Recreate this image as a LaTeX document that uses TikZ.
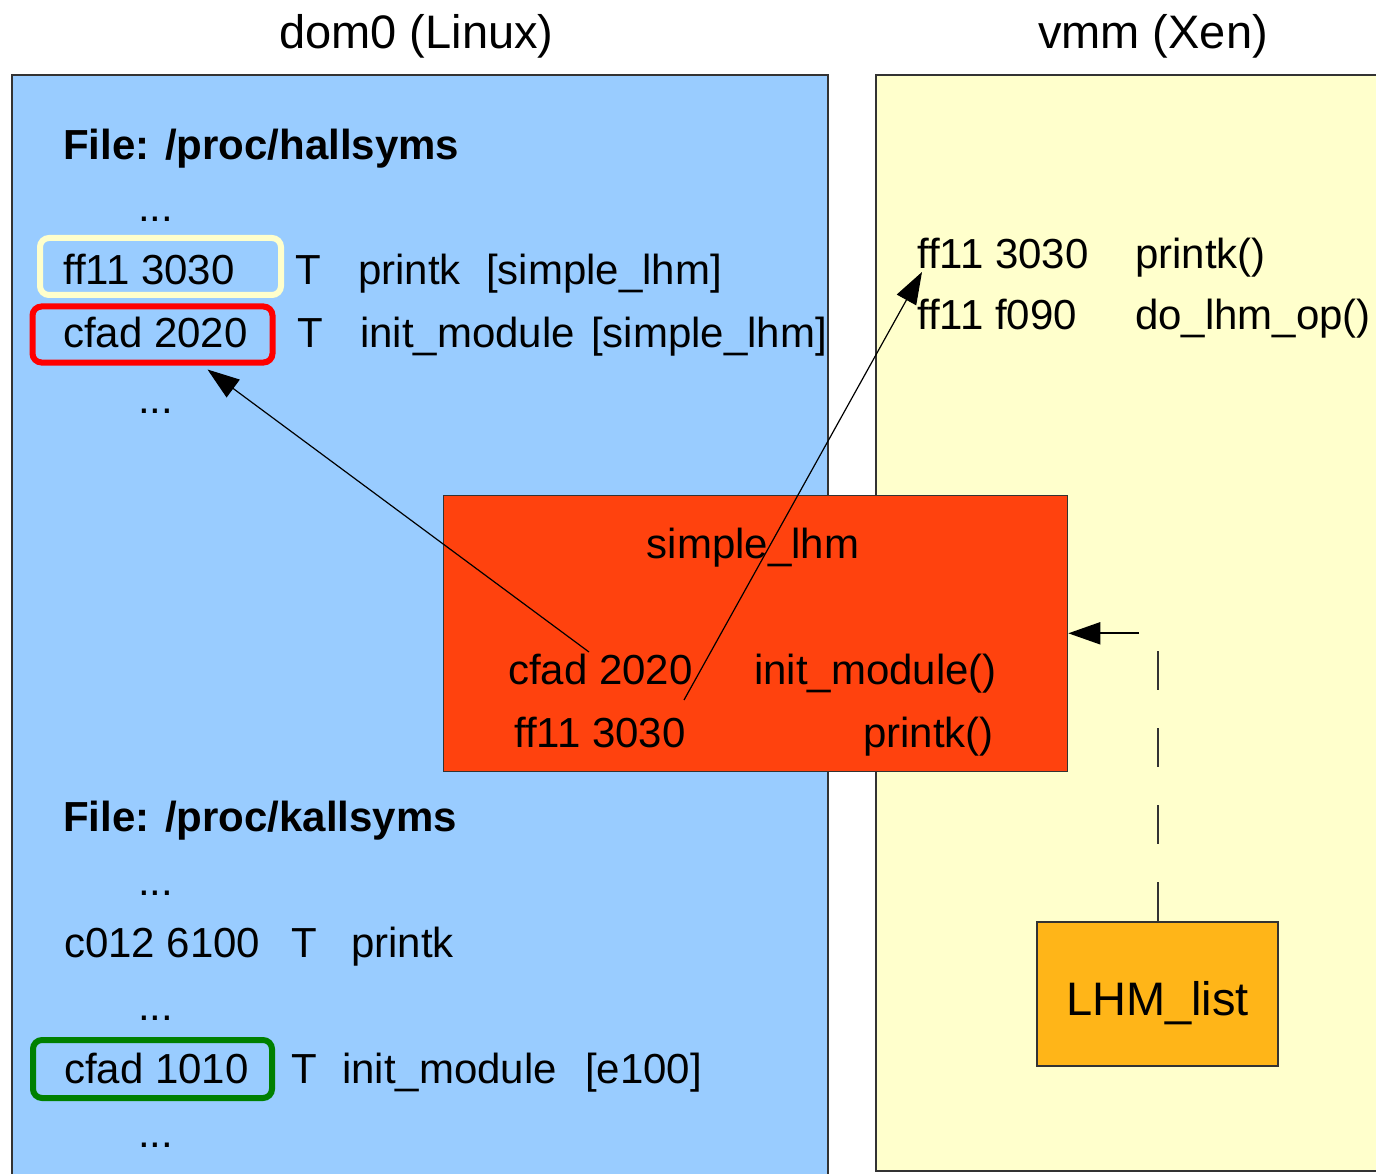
\documentclass[tikz,border=0pt]{standalone}
\usepackage{fontspec}
\setmainfont{Liberation Sans}
\usetikzlibrary{arrows.meta,calc}
\definecolor{dombg}{HTML}{99CCFF}
\definecolor{vmmbg}{HTML}{FFFFCC}
\definecolor{modbg}{HTML}{FF420E}
\definecolor{listbg}{HTML}{FFB518}
\definecolor{framegray}{HTML}{333333}
\definecolor{hlyellow}{HTML}{FFFFCC}
\definecolor{hlred}{HTML}{FF0000}
\definecolor{hlgreen}{HTML}{008000}

\begin{document}
\begin{tikzpicture}[x=1pt,y=-1pt,
  txt/.style={inner sep=0pt, anchor=base west, font=\fontsize{42}{50}\selectfont},
  txtb/.style={txt, font=\fontsize{42}{50}\selectfont\bfseries},
  title/.style={inner sep=0pt, anchor=base, font=\fontsize{47}{56}\selectfont},
  area/.style={draw=framegray, line width=2.5pt},
  hl/.style={draw, line width=6pt, rounded corners=9pt, inner sep=0pt},
  conn/.style={draw=black, line width=1.2pt, -{Triangle[length=32pt,width=22pt]}},
]
\clip (0,0) rectangle (1376,1174);
\fill[white] (0,0) rectangle (1376,1174);

% titles
\node[title] (tdom) at (416.5,49) {dom0 (Linux)};
\node[title] (tvmm) at (1153,49) {vmm (Xen)};

% the two domains
\path[area, fill=dombg] (12,75) rectangle (828,1200);
\path[area, fill=vmmbg] (876,75) rectangle (1400,1171);

% highlight frames
\node[hl, draw=hlyellow, minimum width=241pt, minimum height=57pt] (hly) at (160.5,266.5) {};
\node[hl, draw=hlred, minimum width=240pt, minimum height=56pt] (hlr) at (152.5,334.5) {};
\node[hl, draw=hlgreen, minimum width=239pt, minimum height=58pt] (hlg) at (152.5,1069) {};

% /proc/hallsyms
\node[txtb] (hfile) at (63,160) {File: /proc/hallsyms};
\node[txt] (hd1) at (138,222) {...};
\node[txt] (ha1) at (63,285) {ff11 3030};
\node[txt] (ht1) at (295,285) {T};
\node[txt] (hn1) at (358,285) {printk};
\node[txt] (hm1) at (486,285) {[simple\_lhm]};
\node[txt] (ha2) at (63,348) {cfad 2020};
\node[txt] (ht2) at (297,348) {T};
\node[txt] (hn2) at (360,348) {init\_module};
\node[txt] (hm2) at (591,348) {[simple\_lhm]};
\node[txt] (hd2) at (138,413) {...};

% /proc/kallsyms
\node[txtb] (kfile) at (63,831) {File: /proc/kallsyms};
\node[txt] (kd1) at (138,895) {...};
\node[txt] (ka1) at (64,957) {c012 6100};
\node[txt] (kt1) at (291,957) {T};
\node[txt] (kn1) at (351,957) {printk};
\node[txt] (kd2) at (138,1020) {...};
\node[txt] (ka2) at (64,1083) {cfad 1010};
\node[txt] (kt2) at (291,1083) {T};
\node[txt] (kn2) at (342,1083) {init\_module};
\node[txt] (km2) at (585,1083) {[e100]};
\node[txt] (kd3) at (138,1147) {...};

% symbols exported by the hypervisor
\node[txt] (va1) at (917,269) {ff11 3030};
\node[txt] (vn1) at (1135,269) {printk()};
\node[txt] (va2) at (917,330) {ff11 f090};
\node[txt] (vn2) at (1135,330) {do\_lhm\_op()};

% the loaded module
\node[draw=framegray, line width=1.6pt, fill=modbg, minimum width=624pt, minimum height=276pt, inner sep=0pt] (mod) at (755.5,633.3) {};
\node[txt, anchor=base] (mname) at (753,558) {simple\_lhm};
\node[txt] (ma1) at (508,684) {cfad 2020};
\node[txt] (mn1) at (754,684) {init\_module()};
\node[txt] (ma2) at (514,747) {ff11 3030};
\node[txt, anchor=base east] (mn2) at (994,747) {printk()};

% module list kept by the hypervisor
\node[draw=framegray, line width=2pt, fill=listbg, minimum width=241pt, minimum height=144pt, inner sep=0pt] (lhm) at (1157.5,993.7) {};
\node[title] (lhmtxt) at (1157.5,1015) {LHM\_list};

% connectors
\coordinate (s1) at (589,652);
\coordinate (s2) at (684,700);
\coordinate (lhmtop) at (1157.5,651);
\coordinate (lhmarr) at (1139,633.3);

\draw[conn] (s1) -- ([xshift=55pt,yshift=-4pt]hlr.south);
\draw[conn] (s2) -- ([xshift=5pt,yshift=-3pt]va1.base west);
\draw[conn, line width=2pt] (lhmarr) -- (mod.east);
\draw[framegray, line width=2pt, dash pattern=on 39pt off 38pt] (lhm.north) -- (lhmtop);
\end{tikzpicture}
\end{document}
